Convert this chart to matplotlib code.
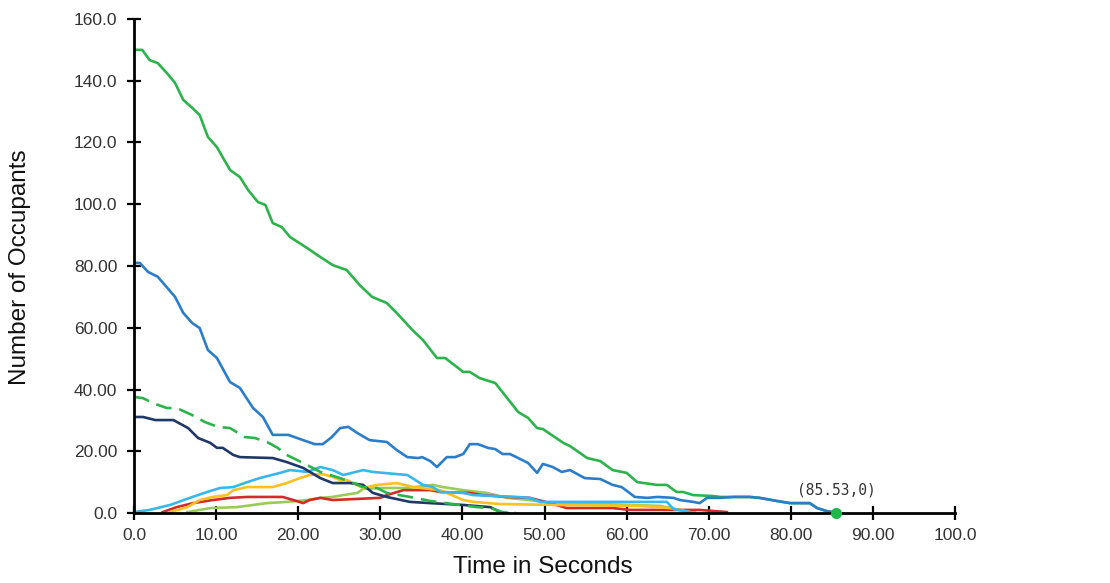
import matplotlib
matplotlib.use("Agg")
import matplotlib.pyplot as plt
from matplotlib import font_manager

# ---------------- data ----------------
t_green = [0, 1.0, 1.9, 2.9, 4.0, 5.0, 6.0, 7.1, 8.0, 9.0, 10.1, 11.7, 12.9, 13.9, 15.1, 16.0,
           16.9, 18.0, 19.0, 21.1, 22.3, 24.2, 25.9, 27.5, 29.0, 30.8, 32.0, 33.9, 35.2, 36.9,
           37.9, 40.1, 40.9, 42.1, 44.0, 46.8, 48.0, 49.1, 49.8, 52.3, 53.1, 55.2, 56.8, 58.3,
           60.0, 61.3, 63.7, 64.9, 66.1, 66.9, 68.1, 70.5, 71.4, 73.0, 75.0, 76.2, 78.3, 79.9,
           82.3, 83.2, 84.4, 85.53]
n_green = [150.0, 150.0, 146.7, 145.7, 142.5, 139.3, 133.8, 131.2, 128.9, 121.8, 118.5, 111.1,
           108.8, 104.6, 100.7, 99.8, 93.9, 92.6, 89.4, 85.8, 83.6, 80.3, 78.7, 73.8, 70.0, 68.0,
           64.8, 59.3, 56.0, 50.2, 50.2, 45.7, 45.7, 43.7, 42.1, 32.7, 30.8, 27.5, 27.2, 22.7,
           21.7, 17.8, 16.8, 13.9, 13.0, 10.0, 9.1, 9.1, 6.8, 6.8, 5.8, 5.5, 5.2, 5.2, 5.2, 4.9,
           3.9, 3.2, 3.2, 1.6, 0.6, 0.0]

t_blue = [0, 0.7, 1.7, 2.9, 5.0, 6.0, 7.1, 8.0, 9.0, 10.1, 11.7, 12.9, 14.5, 15.7, 16.9, 18.8,
          20.6, 22.0, 23.0, 24.1, 25.1, 26.1, 27.2, 28.7, 30.8, 32.0, 33.3, 34.6, 35.1, 36.1,
          36.9, 38.1, 39.1, 40.1, 40.9, 41.9, 43.1, 44.0, 44.9, 45.8, 46.8, 48.0, 49.1, 49.8,
          51.0, 52.1, 53.1, 54.9, 56.8, 58.3, 59.4, 61.0, 62.5, 63.8, 65.7, 66.5, 68.1, 68.9,
          69.8, 71.4, 73.0, 75.0, 76.2, 78.3, 79.9, 82.3, 83.2, 84.4, 85.2]
n_blue = [81.0, 81.0, 78.1, 76.5, 70.0, 64.8, 61.5, 59.9, 52.8, 50.2, 42.4, 40.5, 34.0, 31.1,
          25.3, 25.3, 23.6, 22.3, 22.3, 24.6, 27.5, 27.9, 25.9, 23.6, 23.0, 20.4, 18.1, 17.8,
          18.1, 16.8, 14.9, 18.1, 18.1, 19.1, 22.3, 22.3, 21.1, 20.7, 19.1, 19.1, 17.8, 16.2,
          13.0, 15.9, 14.9, 13.3, 13.9, 11.3, 11.0, 9.1, 8.4, 5.2, 4.9, 5.2, 4.9, 4.2, 3.6, 3.2,
          4.9, 4.9, 5.2, 5.2, 4.9, 3.9, 3.2, 3.2, 1.6, 0.6, 0.3]

t_dash = [0, 1.1, 2.3, 4.0, 5.2, 7.1, 8.6, 10.2, 11.7, 13.5, 14.7, 16.2, 17.5, 18.6, 20.6, 22.7,
          25.1, 26.7, 27.9, 29.6, 30.8, 33.6, 36.1, 39.7, 41.8, 43.4, 44.9, 46.5]
n_dash = [37.6, 37.2, 35.6, 34.0, 34.0, 31.7, 29.5, 27.9, 27.5, 24.6, 24.3, 23.0, 21.1, 18.8,
          16.2, 13.3, 11.3, 9.7, 8.4, 8.1, 6.5, 5.2, 3.9, 2.6, 1.9, 1.6, 0.3, 0.0]

t_navy = [0, 1.1, 2.6, 4.8, 6.6, 7.8, 9.3, 10.1, 10.8, 12.1, 12.9, 16.9, 18.6, 20.6, 22.7, 24.2,
          26.3, 27.9, 29.1, 30.8, 33.6, 36.1, 40.1, 43.4, 44.6, 45.5]
n_navy = [31.1, 31.1, 30.1, 30.1, 27.5, 24.3, 22.7, 21.1, 21.1, 18.8, 18.1, 17.8, 16.5, 14.6,
          11.3, 9.7, 9.7, 9.1, 6.5, 5.2, 3.6, 3.2, 2.6, 1.9, 0.3, 0.0]

t_cyan = [0, 1.9, 4.4, 6.8, 8.9, 10.5, 12.1, 13.8, 15.3, 17.8, 19.0, 21.1, 22.7, 24.2, 25.5,
          27.9, 29.1, 33.3, 35.2, 36.4, 37.3, 40.1, 41.3, 46.6, 48.2, 49.5, 64.9, 65.7, 67.7]
n_cyan = [0.3, 1.0, 2.6, 4.9, 6.8, 8.1, 8.4, 10.0, 11.3, 13.0, 13.9, 13.3, 14.9, 13.9, 12.3,
          13.9, 13.3, 12.3, 9.1, 8.4, 6.8, 6.5, 5.8, 5.2, 4.9, 3.6, 3.6, 1.3, 0.3]

t_yellow = [4.4, 6.5, 8.0, 9.6, 11.3, 12.1, 13.8, 16.9, 18.6, 20.2, 21.4, 23.0, 24.2, 25.1,
            25.9, 27.9, 29.6, 32.0, 34.0, 37.3, 40.1, 41.3, 44.6, 51.9, 61.6, 65.3, 67.7]
n_yellow = [0.3, 1.9, 4.2, 5.2, 5.8, 7.4, 8.4, 8.4, 9.7, 11.3, 12.3, 12.6, 11.7, 10.7, 10.7,
            8.1, 9.1, 9.7, 8.4, 7.4, 4.2, 3.6, 2.9, 2.6, 2.3, 1.6, 0.3]

t_red = [3.5, 5.2, 7.2, 9.6, 11.7, 13.8, 18.1, 19.4, 20.6, 21.4, 22.7, 24.2, 30.0, 30.8, 32.8,
         36.1, 37.3, 40.9, 42.5, 45.4, 48.2, 50.7, 52.7, 58.3, 60.4, 68.9, 72.2]
n_red = [0.3, 1.9, 3.2, 4.2, 4.9, 5.2, 5.2, 4.2, 3.2, 4.2, 4.9, 4.2, 4.9, 5.8, 7.4, 7.4, 6.8,
         6.5, 5.8, 5.2, 4.9, 3.2, 1.6, 1.6, 1.0, 1.0, 0.3]

t_lime = [6.5, 9.3, 12.5, 16.2, 18.6, 21.1, 22.7, 24.2, 25.5, 27.2, 27.9, 30.0, 33.3, 36.4,
          37.6, 40.1, 43.0, 45.4, 48.2, 50.7, 56.8, 64.1, 66.5, 68.3]
n_lime = [0.3, 1.6, 1.9, 3.2, 3.6, 4.2, 4.9, 5.2, 5.8, 6.5, 7.8, 8.1, 8.1, 9.1, 8.4, 7.4, 6.5,
          4.9, 4.2, 3.2, 2.9, 2.3, 1.0, 0.3]

x_ticks = [0, 10, 20, 30, 40, 50, 60, 70, 80, 90, 100]
x_ticklabels = ["0.0", "10.00", "20.00", "30.00", "40.00", "50.00", "60.00", "70.00", "80.00",
                "90.00", "100.0"]
y_ticks = [0, 20, 40, 60, 80, 100, 120, 140, 160]
y_ticklabels = ["0.0", "20.00", "40.00", "60.00", "80.00", "100.0", "120.0", "140.0", "160.0"]

end_point = (85.53, 0)
end_label = "(85.53,0)"

# ---------------- style ----------------
avail = {f.name for f in font_manager.fontManager.ttflist}
base_font = "Liberation Sans" if "Liberation Sans" in avail else "DejaVu Sans"

GREEN = "#2db34c"
BLUE = "#2b7dc9"
NAVY = "#1f3866"
CYAN = "#38b8ea"
YELLOW = "#fcc020"
RED = "#d62a2a"
LIME = "#9acb58"

fig = plt.figure(figsize=(11.10, 5.83), dpi=100)
ax = fig.add_axes([134 / 1110, (583 - 513) / 583, 821 / 1110, 494 / 583])

lw = 1.9
ax.plot(t_lime, n_lime, color=LIME, lw=lw, zorder=2)
ax.plot(t_red, n_red, color=RED, lw=lw, zorder=2)
ax.plot(t_yellow, n_yellow, color=YELLOW, lw=lw, zorder=2)
ax.plot(t_cyan, n_cyan, color=CYAN, lw=lw, zorder=2)
ax.plot(t_navy, n_navy, color=NAVY, lw=lw, zorder=3)
ax.plot(t_dash, n_dash, color=GREEN, lw=lw, ls=(0, (6, 3)), zorder=3)
ax.plot(t_green, n_green, color=GREEN, lw=lw, zorder=3)
ax.plot(t_blue, n_blue, color=BLUE, lw=lw, zorder=4)

ax.plot([end_point[0]], [end_point[1]], "o", color="#1cb84a", ms=7, zorder=6, clip_on=False)
ax.annotate(end_label, xy=end_point, xytext=(0, 11), textcoords="offset points",
            ha="center", va="bottom", fontsize=10.5, family="DejaVu Sans Mono", color="#333333")

ax.set_xlim(0, 100)
ax.set_ylim(0, 160)
for s in ["top", "right"]:
    ax.spines[s].set_visible(False)
for s in ["left", "bottom"]:
    ax.spines[s].set_linewidth(2.0)
    ax.spines[s].set_color("black")
    ax.spines[s].set_zorder(5)

ax.set_xticks(x_ticks)
ax.set_xticklabels(x_ticklabels)
ax.set_yticks(y_ticks)
ax.set_yticklabels(y_ticklabels)
ax.tick_params(axis="both", direction="inout", length=10, width=1.6, color="black",
               labelsize=12.5, labelcolor="#333333")
ax.tick_params(axis="x", pad=6)
ax.tick_params(axis="y", pad=7)
for lab in ax.get_xticklabels() + ax.get_yticklabels():
    lab.set_family(base_font)

fig.text(543 / 1110, 1 - 567 / 583, "Time in Seconds", ha="center", va="center",
         fontsize=17.5, family=base_font, color="#111111")
fig.text(20 / 1110, 1 - 267 / 583, "Number of Occupants", ha="center", va="center",
         rotation=90, fontsize=17.5, family=base_font, color="#111111")

fig.savefig("out.png", dpi=100, facecolor="white")
